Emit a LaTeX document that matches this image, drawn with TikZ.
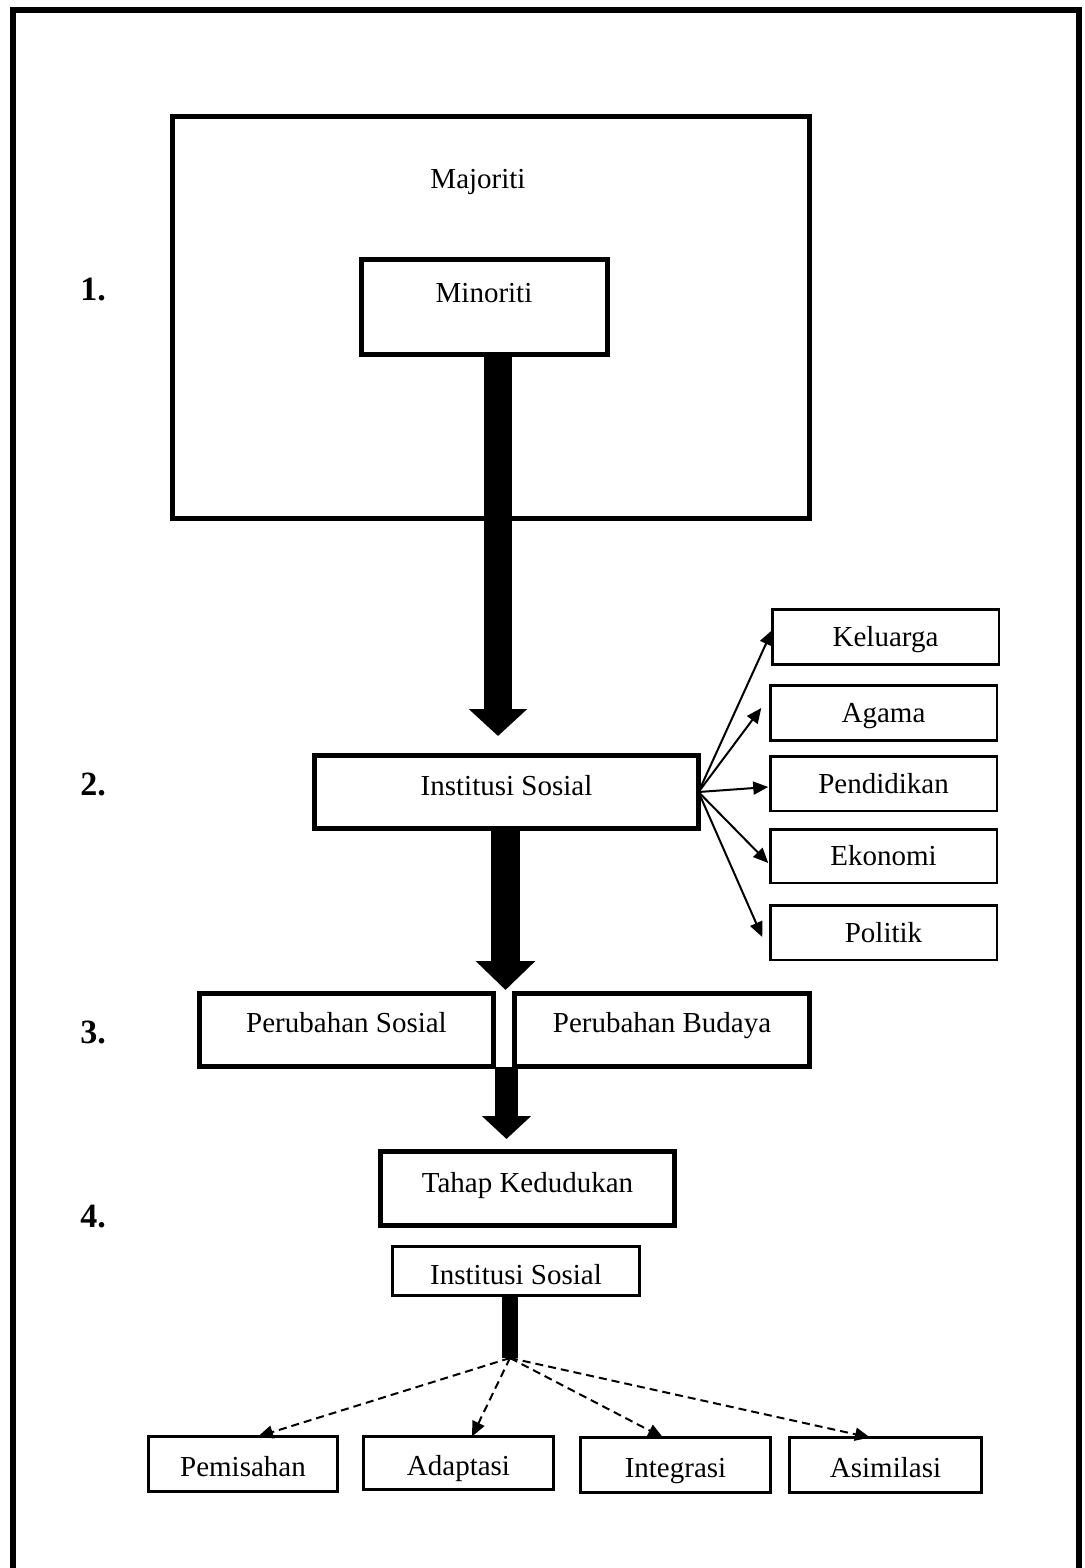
\documentclass[tikz,border=0pt]{standalone}
\usepackage{fontspec}
\setmainfont{Liberation Serif}
\usetikzlibrary{arrows.meta}
\newcommand{\rz}[2]{\raisebox{#1}[10pt][3pt]{#2}}
\begin{document}
\begin{tikzpicture}[x=0.5pt,y=-0.5pt,
  every node/.style={font=\fontsize{14.5}{17}\selectfont, inner sep=0pt, outer sep=0pt},
  thickbox/.style={draw, line width=2.5pt},
  sidebox/.style={draw, line width=1.25pt, minimum width=113.25pt, minimum height=27.5pt},
  botbox/.style={draw, line width=1.5pt, minimum height=27.5pt},
  numlabel/.style={font=\fontsize{17}{20}\selectfont\bfseries},
  fanarrow/.style={line width=1pt, -{Triangle[length=7.5pt,width=6.5pt]}},
  dasharrow/.style={line width=1pt, dash pattern=on 4pt off 2.5pt, -{Triangle[length=7.5pt,width=6.5pt]}}
]
\useasboundingbox (0,0) rectangle (1084,1568);
\fill[white] (0,0) rectangle (1084,1568);
\clip (0,0) rectangle (1084,1568);

% outer frame (bottom edge lies below the page)
\draw[line width=3pt] (12.5,1700) -- (12.5,9.7) -- (1078.5,9.7) -- (1078.5,1700);

% step numbers
\node[numlabel] (n1) at (93,290) {1.};
\node[numlabel] (n2) at (93,784) {2.};
\node[numlabel] (n3) at (93,1032) {3.};
\node[numlabel] (n4) at (93,1217) {4.};

% level 1
\node[thickbox, minimum width=318.5pt, minimum height=201pt] (maj) at (491,317.5) {};
\node (majt) at (478,182) {Majoriti};
\node[thickbox, minimum width=123pt, minimum height=47.5pt] (mino) at (484.5,307) {};
\node (minot) at (484,293) {Minoriti};

% level 2
\node[thickbox, minimum width=192pt, minimum height=36.5pt] (inst) at (506.5,792) {\rz{1.7pt}{Institusi Sosial}};

\node[sidebox] (kel) at (885.5,637) {\rz{-1.3pt}{Keluarga}};
\node[sidebox] (aga) at (883.5,713) {\rz{-1.3pt}{Agama}};
\node[sidebox, minimum height=27.25pt] (pend) at (883.5,783.5) {\rz{-1.3pt}{Pendidikan}};
\node[sidebox, minimum height=26.75pt] (eko) at (883.5,856) {\rz{-1.3pt}{Ekonomi}};
\node[sidebox, minimum height=27.25pt] (pol) at (883.5,932.5) {\rz{-1.3pt}{Politik}};

% level 3
\node[thickbox, minimum width=147pt, minimum height=36.5pt] (ps) at (346.5,1030) {\rz{2.2pt}{Perubahan Sosial}};
\node[thickbox, minimum width=147.5pt, minimum height=36.5pt] (pb) at (662,1030) {\rz{2.2pt}{Perubahan Budaya}};

% level 4
\node[thickbox, minimum width=147pt, minimum height=37pt] (tahap) at (527.5,1188.5) {\rz{1.45pt}{Tahap Kedudukan}};
\node[draw, line width=1.5pt, minimum width=123.5pt, minimum height=24.5pt] (inst2) at (516,1271) {\rz{-3.3pt}{Institusi Sosial}};

\node[botbox, minimum width=94.5pt] (pem) at (243,1464) {\rz{-2.8pt}{Pemisahan}};
\node[botbox, minimum width=95pt, minimum height=26.5pt] (ada) at (458.5,1463) {\rz{-2.8pt}{Adaptasi}};
\node[botbox, minimum width=95pt] (int) at (675.5,1465) {\rz{-2.8pt}{Integrasi}};
\node[botbox, minimum width=96pt] (asi) at (885.5,1465) {\rz{-2.8pt}{Asimilasi}};

% big arrows
\coordinate (t1) at (498,736);
\draw[line width=14pt, -{Triangle[length=13.5pt,width=28.5pt]}] (mino.south -| t1) -- (t1);
\coordinate (t2) at (505.5,990);
\draw[line width=14.5pt, -{Triangle[length=14.5pt,width=29pt]}] (inst.south -| t2) -- (t2);
\coordinate (t3) at (506.5,1139);
\draw[line width=11.5pt, -{Triangle[length=11.5pt,width=24pt]}] (ps.south -| t3) -- (t3);

% fan to institutions
\draw[fanarrow] (inst.east) -- ([yshift=3.5pt]kel.west);
\draw[fanarrow] (inst.east) -- ([xshift=-4.5pt,yshift=2.5pt]aga.west);
\draw[fanarrow] (inst.east) -- ([xshift=-1pt,yshift=-1.75pt]pend.west);
\draw[fanarrow] (inst.east) -- ([xshift=-1pt,yshift=-3.5pt]eko.west);
\draw[fanarrow] (inst.east) -- ([xshift=-4pt,yshift=-2.25pt]pol.west);

% stem and dashed arrows
\coordinate (hub) at (510,1358);
\draw[line width=8pt] (inst2.south -| hub) -- (hub);
\draw[dasharrow] (hub) -- ([xshift=7.5pt]pem.north);
\draw[dasharrow] (hub) -- ([xshift=6.75pt]ada.north);
\draw[dasharrow] (hub) -- ([xshift=-6.25pt]int.north);
\draw[dasharrow] (hub) -- ([xshift=-7.75pt]asi.north);
\end{tikzpicture}
\end{document}
